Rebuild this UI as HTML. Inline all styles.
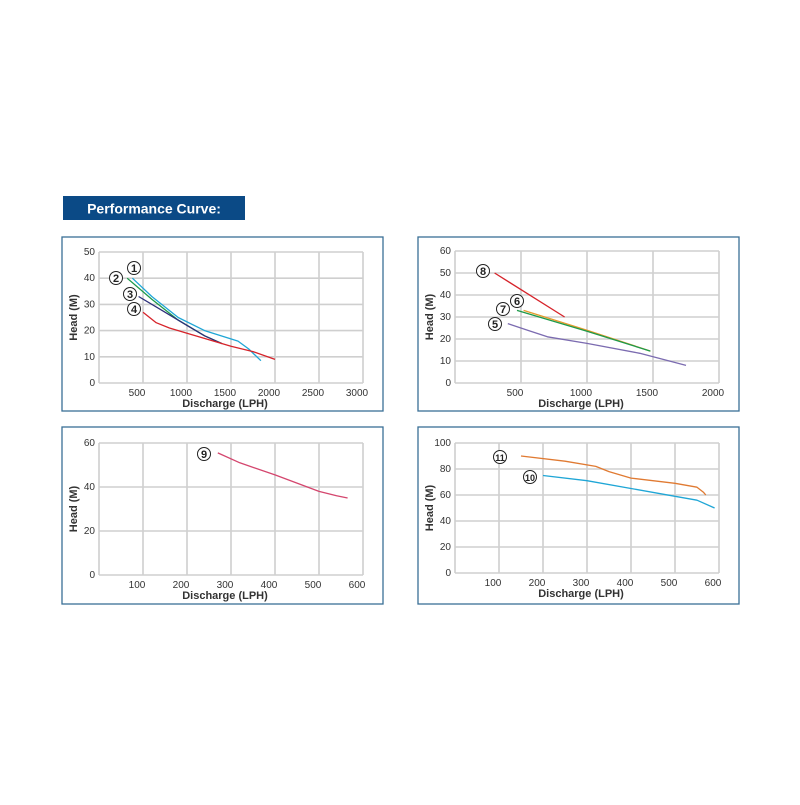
<!DOCTYPE html>
<html><head><meta charset="utf-8"><style>
body{margin:0;background:#fff;width:800px;height:800px;overflow:hidden;font-family:"Liberation Sans",Arial,sans-serif}
</style></head><body>
<svg id="svg" width="800" height="800" xmlns="http://www.w3.org/2000/svg" font-family="Liberation Sans, Arial, sans-serif">
<rect x="63" y="196" width="182" height="24" fill="#0b4a86"/>
<text x="154" y="213.5" text-anchor="middle" fill="#fff" font-weight="bold" font-size="14">Performance Curve:</text>
</svg>
<script>
// Panel 1
const p1XTicks=[500,1000,1500,2000,2500,3000];
const p1YTicks=[0,10,20,30,40,50];
const s1X=[380,600,900,1200,1580,1700,1840];const s1Y=[40,33,25,20,16,13,8.5];
const s2X=[320,600,900,1200,1400];const s2Y=[40,32,24,18,15];
const s3X=[450,700,1000,1200,1400];const s3Y=[33,28,22,18,15];
const s4X=[500,650,800,1000,1250,1500,1750,2000];const s4Y=[27,23,21,19,16.5,14,12,9];
// Panel 2
const p2XTicks=[500,1000,1500,2000];
const p2YTicks=[0,10,20,30,40,50,60];
const s8X=[300,830];const s8Y=[50,30];
const s6X=[520,1000,1480];const s6Y=[33,24,14.5];
const s7X=[470,1000,1480];const s7Y=[33,23.5,14.5];
const s5X=[400,550,700,1000,1400,1750];const s5Y=[27,24,21,18,13.5,8];
// Panel 3
const p3XTicks=[100,200,300,400,500,600];
const p3YTicks=[0,20,40,60];
const s9X=[270,320,400,500,540,565];const s9Y=[55.5,51,45.5,38,36,35];
// Panel 4
const p4XTicks=[100,200,300,400,500,600];
const p4YTicks=[0,20,40,60,80,100];
const s11X=[150,250,320,350,400,500,550,565,570];const s11Y=[90,86,82,78,73,69,66,62,60];
const s10X=[200,300,400,500,550,590];const s10Y=[75,71,65,59,56,50];

const NS="http://www.w3.org/2000/svg";
const svg=document.getElementById('svg');
function mk(t,a,parent){const e=document.createElementNS(NS,t);for(const k in a)e.setAttribute(k,a[k]);(parent||svg).appendChild(e);return e;}

function panel(cfg){
  const g=mk('g',{});
  
  
  const bx=mk('rect',{x:cfg.bx,y:cfg.by,width:321,height:cfg.bh,fill:'#fff',stroke:'#3a6f96','stroke-width':1.3},g);
  
  
  const L=cfg.L,R=cfg.R,T=cfg.T,B=cfg.B;
  const xs=v=>L+(v-cfg.xmin)/(cfg.xmax-cfg.xmin)*(R-L);
  const ys=v=>B-(v-cfg.ymin)/(cfg.ymax-cfg.ymin)*(B-T);
  // grid
  cfg.xt.forEach(v=>{const l=mk('line',{x1:xs(v),x2:xs(v),y1:T,y2:B,stroke:'#cfcfcf','stroke-width':1.6},g);
    
    const t=mk('text',{x:xs(v)-6,y:B+13,'text-anchor':'middle','font-size':10,fill:'#333'},g);t.textContent=v;
    });
  cfg.yt.forEach(v=>{const l=mk('line',{x1:L,x2:R,y1:ys(v),y2:ys(v),stroke:'#cfcfcf','stroke-width':1.6},g);
    
    const t=mk('text',{x:L-4,y:ys(v)+3,'text-anchor':'end','font-size':10,fill:'#333'},g);t.textContent=v;
    });
  mk('line',{x1:L,x2:L,y1:T,y2:B,stroke:'#cfcfcf','stroke-width':1.6},g);
  const xt=mk('text',{x:(L+R)/2-6,y:B+24,'text-anchor':'middle','font-size':11,'font-weight':'bold',fill:'#333'},g);xt.textContent='Discharge (LPH)';
  
  const cy=(T+B)/2;
  const yt=mk('text',{x:cfg.bx+15,y:cy,'text-anchor':'middle','font-size':11,'font-weight':'bold',fill:'#333',transform:`rotate(-90 ${cfg.bx+15} ${cy})`},g);yt.textContent='Head (M)';
  
  cfg.series.forEach(s=>{
    const pts=s.x.map((v,i)=>xs(v).toFixed(1)+','+ys(s.y[i]).toFixed(1)).join(' ');
    const p=mk('polyline',{points:pts,fill:'none',stroke:s.c,'stroke-width':1.3,'stroke-linejoin':'round'},g);
    
    const c=mk('circle',{cx:s.lx,cy:s.ly,r:6.5,fill:'#fff',stroke:'#222','stroke-width':1},g);
    
    const t=mk('text',{x:s.lx,y:s.ly+3.8,'text-anchor':'middle','font-size':s.n>9?9:11,'font-weight':'bold',fill:'#222'},g);t.textContent=s.n;
    
  });
}
panel({name:'chart-models-1-4',bx:62,by:237,bh:174,L:99,R:363,T:252,B:383,xmin:0,xmax:3000,ymin:0,ymax:50,xt:p1XTicks,yt:p1YTicks,
 series:[{n:1,x:s1X,y:s1Y,c:'#1fa6d6',lx:134,ly:268},{n:2,x:s2X,y:s2Y,c:'#1d9a4a',lx:116,ly:278},{n:3,x:s3X,y:s3Y,c:'#2c2f7a',lx:130,ly:294},{n:4,x:s4X,y:s4Y,c:'#d6232a',lx:134,ly:309}]});
panel({name:'chart-models-5-8',bx:418,by:237,bh:174,L:455,R:719,T:251,B:383,xmin:0,xmax:2000,ymin:0,ymax:60,xt:p2XTicks,yt:p2YTicks,
 series:[{n:8,x:s8X,y:s8Y,c:'#d6232a',lx:483,ly:271},{n:6,x:s6X,y:s6Y,c:'#e49a2a',lx:517,ly:301},{n:7,x:s7X,y:s7Y,c:'#1d9a4a',lx:503,ly:309},{n:5,x:s5X,y:s5Y,c:'#7b6bb0',lx:495,ly:324}]});
panel({name:'chart-model-9',bx:62,by:427,bh:177,L:99,R:363,T:443,B:575,xmin:0,xmax:600,ymin:0,ymax:60,xt:p3XTicks,yt:p3YTicks,
 series:[{n:9,x:s9X,y:s9Y,c:'#d4466e',lx:204,ly:454}]});
panel({name:'chart-models-10-11',bx:418,by:427,bh:177,L:455,R:719,T:443,B:573,xmin:0,xmax:600,ymin:0,ymax:100,xt:p4XTicks,yt:p4YTicks,
 series:[{n:11,x:s11X,y:s11Y,c:'#e07a32',lx:500,ly:457},{n:10,x:s10X,y:s10Y,c:'#1fa6d6',lx:530,ly:477}]});
</script>
</body></html>
